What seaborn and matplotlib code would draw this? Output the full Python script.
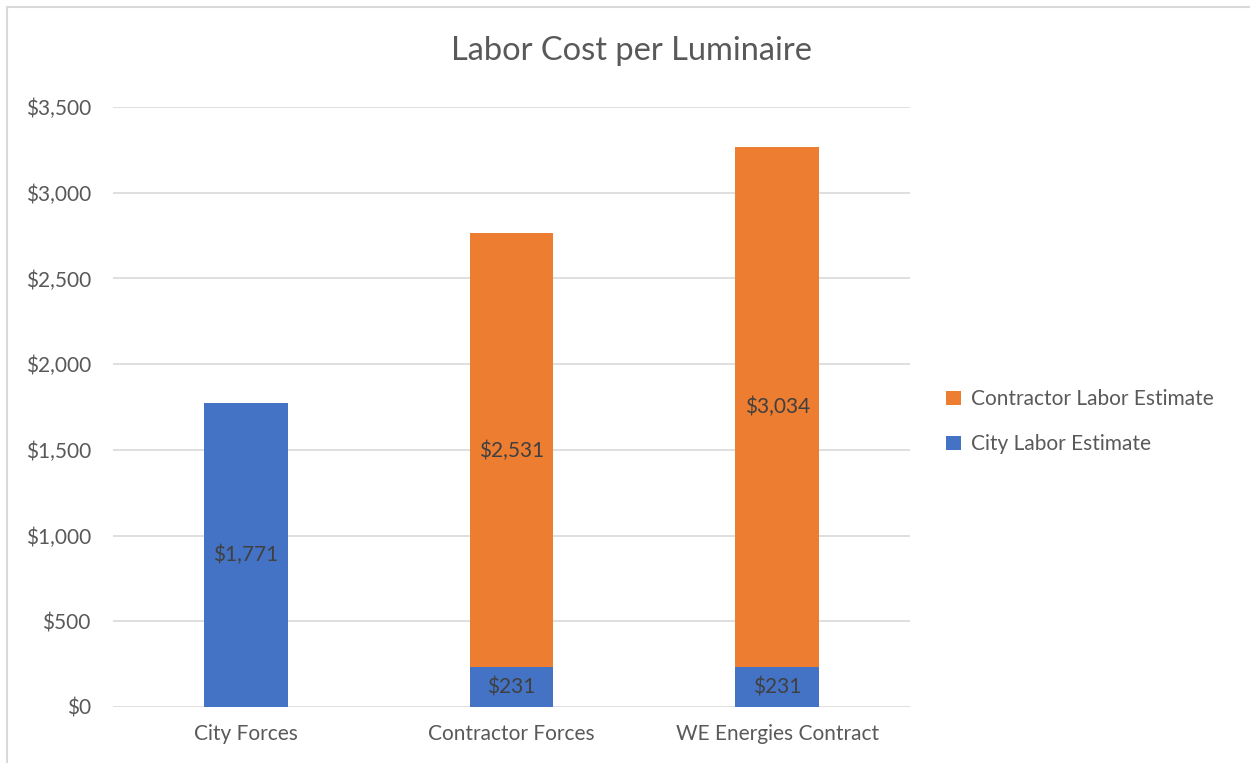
import matplotlib
matplotlib.use("Agg")
import matplotlib.pyplot as plt
import seaborn as sns
import pandas as pd
from matplotlib.patches import Rectangle
from matplotlib.ticker import FuncFormatter

categories = ["City Forces", "Contractor Forces", "WE Energies Contract"]
city_labor = [1771, 231, 231]
contractor_labor = [0, 2531, 3034]
y_ticks = [0, 500, 1000, 1500, 2000, 2500, 3000, 3500]

sns.set_theme(style="white")
plt.rcParams['font.family'] = ['Lato', 'DejaVu Sans']

fig = plt.figure(figsize=(12.5, 7.63), dpi=100)
ax = fig.add_axes([0.0904, 0.0734, 0.6376, 0.7864])

df = pd.DataFrame({"cat": categories, "city": city_labor, "contr": contractor_labor})
blue = "#4472C4"
orange = "#ED7D31"

sns.barplot(data=df, x="cat", y="city", color=blue, width=0.316, ax=ax,
            saturation=1, label="City Labor Estimate", zorder=3, linewidth=0)
sns.barplot(data=df, x="cat", y="contr", color=orange, width=0.316, ax=ax,
            saturation=1, bottom=df["city"], label="Contractor Labor Estimate",
            zorder=3, linewidth=0)

for i, (c, k) in enumerate(zip(city_labor, contractor_labor)):
    if c > 0:
        ax.text(i, c / 2, f"${c:,}", ha="center", va="center", fontsize=15, color="#404040", zorder=4)
    if k > 0:
        ax.text(i, c + k / 2, f"${k:,}", ha="center", va="center", fontsize=15, color="#404040", zorder=4)

ax.set_ylim(0, 3500)
ax.set_xlim(-0.5, 2.5)
ax.set_yticks(y_ticks)
ax.yaxis.set_major_formatter(FuncFormatter(lambda v, p: f"${int(v):,}"))
ax.grid(axis="y", color="#D9D9D9", linewidth=1.2, zorder=0)
ax.set_axisbelow(True)
for s in ax.spines.values():
    s.set_visible(False)
ax.tick_params(axis="both", length=0, labelsize=15, colors="#595959", pad=12)
ax.tick_params(axis="y", pad=16)
ax.set_xlabel("")
ax.set_ylabel("")

fig.text(0.505, 0.933, "Labor Cost per Luminaire", ha="center", va="center",
         fontsize=23.5, color="#595959")

handles, labels = ax.get_legend_handles_labels()
order = [labels.index("Contractor Labor Estimate"), labels.index("City Labor Estimate")]
leg = ax.legend([handles[i] for i in order], [labels[i] for i in order],
                loc="center left", bbox_to_anchor=(1.022, 0.475), frameon=False,
                fontsize=15, handlelength=0.7, handleheight=0.7, handletextpad=0.5,
                labelspacing=1.2)
for t in leg.get_texts():
    t.set_color("#595959")

fig.patches.append(Rectangle((7 / 1250, -0.1), 1.2, 1 - 7 / 763 + 0.1,
                             transform=fig.transFigure, fill=False,
                             edgecolor="#D9D9D9", linewidth=1.5))

fig.savefig("out.png", dpi=100)
